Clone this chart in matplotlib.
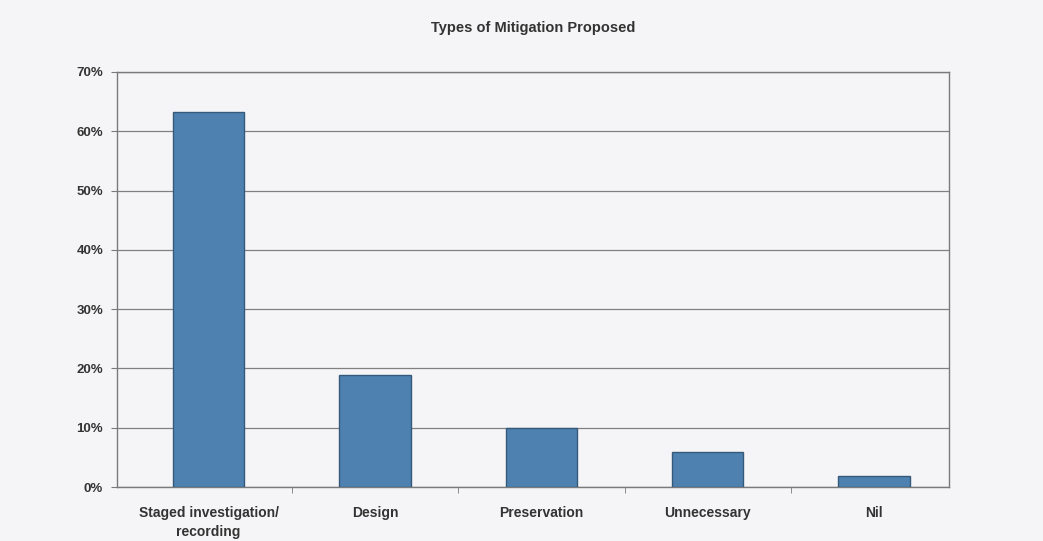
import matplotlib
matplotlib.use("Agg")
import matplotlib.pyplot as plt
from matplotlib.ticker import PercentFormatter

categories = ["Staged investigation/\nrecording", "Design", "Preservation", "Unnecessary", "Nil"]
values = [63.2, 18.9, 10.0, 5.9, 1.9]
yticks = [0, 10, 20, 30, 40, 50, 60, 70]

plt.rcParams['font.family'] = ['Liberation Sans', 'DejaVu Sans']

bg = '#f5f5f7'
fig = plt.figure(figsize=(10.43, 5.41), dpi=100, facecolor=bg)
ax = fig.add_axes([117/1043, 54/541, (949-117)/1043, (487-72)/541])
ax.set_facecolor(bg)

x = list(range(len(categories)))
ax.bar(x, values, width=0.43, color='#4f81b0', edgecolor='#35597a', linewidth=1.0, zorder=3)

ax.set_xlim(-0.55, len(categories) - 0.55)
ax.set_ylim(0, 70)
ax.set_yticks(yticks)
ax.yaxis.set_major_formatter(PercentFormatter(decimals=0))
ax.grid(axis='y', color='#808080', linewidth=0.9, zorder=0)
ax.set_xticks(x)
ax.set_xticklabels(categories, fontsize=10, fontweight='bold', color='#333333', linespacing=1.45)
ax.set_xticks([i + 0.5 for i in range(len(categories) - 1)], minor=True)
ax.tick_params(axis='x', which='major', length=0, pad=14)
ax.tick_params(axis='x', which='minor', length=4, color='#7a7a7a')
ax.tick_params(axis='y', length=4, color='#7a7a7a', labelsize=9.5, labelcolor='#333333', pad=6)
for lbl in ax.get_yticklabels():
    lbl.set_fontweight('bold')
for s in ax.spines.values():
    s.set_color('#7a7a7a')
    s.set_linewidth(1.0)

fig.text(533/1043, 1 - 28/541, "Types of Mitigation Proposed", ha='center', va='center',
         fontsize=10.5, fontweight='bold', color='#333333')

fig.savefig("out.png", dpi=100, facecolor=fig.get_facecolor())
